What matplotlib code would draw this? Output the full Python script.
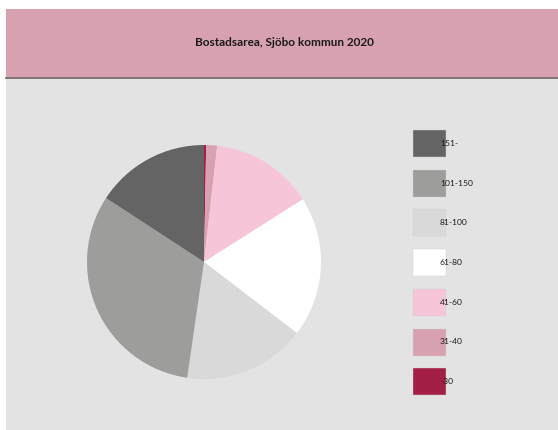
import matplotlib.pyplot as plt
from matplotlib.patches import Rectangle

# Andel lägenheter per storleksklass (kvm), Sjöbo kommun 2020
klasser = ['-30', '31-40', '41-60', '61-80', '81-100', '101-150', '151-']
andel = [0.3, 1.5, 14.2, 19.4, 16.9, 31.9, 15.8]
farger = ['#a31f45', '#d8a1b0', '#f6c5d9', '#ffffff', '#d9d9d9', '#9d9d9c', '#646464']

titel = 'Bostadsarea, Sjöbo kommun 2020'

W, H = 558, 430
fig = plt.figure(figsize=(W / 100, H / 100), dpi=100)
fig.patch.set_facecolor('white')

# bakgrund och rubrikfält
bg = fig.add_axes([0, 0, 1, 1])
bg.set_xlim(0, W)
bg.set_ylim(H, 0)
bg.axis('off')
bg.add_patch(Rectangle((6, 77), W - 6, H - 77, facecolor='#e3e3e3', edgecolor='none'))
bg.add_patch(Rectangle((6, 9), W - 6, 68, facecolor='#d8a1b0', edgecolor='none'))
bg.plot([6, W], [77.5, 77.5], color='#6a6060', linewidth=1.2)
bg.text(284.5, 42, titel, ha='center', va='center', fontsize=8.5,
        fontweight='bold', family='Lato', color='#1a1a1a')

# cirkeldiagram, medurs från kl 12
r = 117
cx, cy = 204, 262
ax = fig.add_axes([(cx - r) / W, 1 - (cy + r) / H, 2 * r / W, 2 * r / H])
ax.pie(andel, colors=farger, startangle=90, counterclock=False,
       wedgeprops=dict(linewidth=0))
ax.set_xlim(-1, 1)
ax.set_ylim(-1, 1)
ax.set_aspect('auto')
ax.axis('off')

# förklaring, största klassen överst
for i, (k, f) in enumerate(zip(klasser[::-1], farger[::-1])):
    y = 130 + i * 39.7
    bg.add_patch(Rectangle((413, y), 33, 27, facecolor=f,
                           edgecolor='#d0d0d0', linewidth=0.3))
    bg.text(440, y + 13.5, k, ha='left', va='center', fontsize=6.1,
            family='Lato', color='#1a1a1a')

fig.savefig('out.png', dpi=100)
